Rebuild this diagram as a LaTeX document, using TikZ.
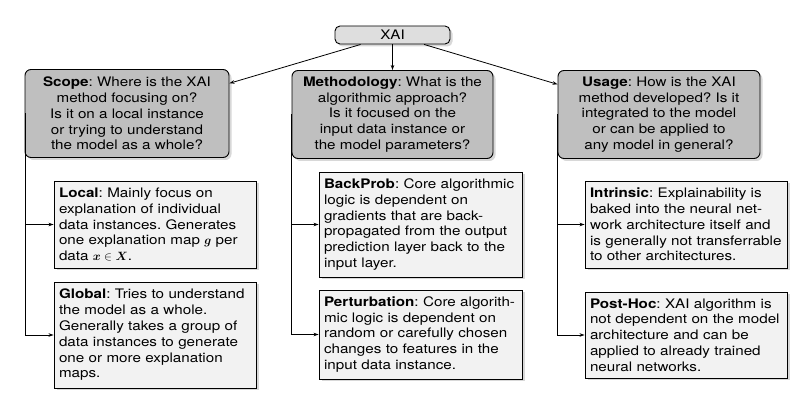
\documentclass[tikz,border=0pt]{standalone}
\usepackage{amsmath}
\usepackage{bm}
\usepackage{fontspec}
\setmainfont[FakeStretch=1.16]{TeX Gyre Heros}
\usetikzlibrary{shadows,arrows.meta}
\newcommand{\Lx}[1]{\mbox{#1}}
\begin{document}
\frenchspacing
\begin{tikzpicture}[x=1pt,y=-1pt,
  every node/.style={font={\fontsize{13.1}{15.8}\selectfont\frenchspacing}, line width=0.9pt, draw=black, inner sep=0pt},
  shad/.style={drop shadow={shadow xshift=2.5pt, shadow yshift=-2.5pt, fill=black!30}},
  rootbox/.style={shad, rounded corners=5pt, fill=black!13, minimum width=115pt, minimum height=18pt},
  parentbox/.style={shad, rounded corners=6pt, fill=black!25, align=center, minimum height=88pt},
  childbox/.style={shad, fill=black!5, align=left, minimum height=#1},
  conn/.style={line width=0.8pt, -{Stealth[length=5pt,width=3.5pt]}}
]
\path[fill=white] (0,0) rectangle (809,403);

\node[rootbox] (xai) at (392.5,35) {XAI};

\node[parentbox, minimum width=204pt] (scope) at (127,113.5)
  {\textbf{Scope}: Where is the XAI\\ method focusing on?\\ Is it on a local instance\\ or trying to understand\\ the model as a whole?};
\node[parentbox, minimum width=201pt] (meth) at (392.5,114.5)
  {\textbf{Methodology}: What is the\\ algorithmic approach?\\ Is it focused on the\\ input data instance or\\ the model parameters?};
\node[parentbox, minimum width=202pt] (usage) at (659,114.5)
  {\textbf{Usage}: How is the XAI\\ method developed? Is it\\ integrated to the model\\ or can be applied to\\ any model in general?};

\node[childbox=87pt, text width=192pt, inner xsep=5pt] (local) at (155,224.5)
  {\Lx{\textbf{Local}: Mainly focus on}\\ \Lx{explanation of individual}\\ \Lx{data instances. Generates}\\ \Lx{one explanation map $\bm{g}$ per}\\ \Lx{data $\bm{x}\in\bm{X}$.}};
\node[childbox=106pt, text width=192pt, inner xsep=5pt] (global) at (155,335)
  {\Lx{\textbf{Global}: Tries to understand}\\ \Lx{the model as a whole.}\\ \Lx{Generally takes a group of}\\ \Lx{data instances to generate}\\ \Lx{one or more explanation}\\ \Lx{maps.}};

\node[childbox=105pt, text width=193pt, inner xsep=5pt] (bp) at (420.5,224.5)
  {\Lx{\textbf{BackProb}: Core algorithmic}\\ \Lx{logic is dependent on}\\ \Lx{gradients that are back-}\\ \Lx{propagated from the output}\\ \Lx{prediction layer back to the}\\ \Lx{input layer.}};
\node[childbox=89pt, text width=193pt, inner xsep=5pt] (pert) at (420.5,334.5)
  {\Lx{\textbf{Perturbation}: Core algorith-}\\ \Lx{mic logic is dependent on}\\ \Lx{random or carefully chosen}\\ \Lx{changes to features in the}\\ \Lx{input data instance.}};

\node[childbox=87pt, text width=192pt, inner xsep=5pt] (intr) at (686,224.5)
  {\Lx{\textbf{Intrinsic}: Explainability is}\\ \Lx{baked into the neural net-}\\ \Lx{work architecture itself and}\\ \Lx{is generally not transferrable}\\ \Lx{to other architectures.}};
\node[childbox=86pt, text width=192pt, inner xsep=5pt] (post) at (686,335)
  {\Lx{\textbf{Post-Hoc}: XAI algorithm is}\\ \Lx{not dependent on the model}\\ \Lx{architecture and can be}\\ \Lx{applied to already trained}\\ \Lx{neural networks.}};

\draw[conn] (xai) -- (scope);
\draw[conn] (xai) -- (meth);
\draw[conn] (xai) -- (usage);

\draw[conn] ([xshift=1pt]scope.west) |- (local.west);
\draw[conn] ([xshift=1pt]scope.west) |- (global.west);
\draw[conn] ([xshift=-0.5pt]meth.west) |- (bp.west);
\draw[conn] ([xshift=-0.5pt]meth.west) |- (pert.west);
\draw[conn] (usage.west) |- (intr.west);
\draw[conn] (usage.west) |- (post.west);
\end{tikzpicture}
\end{document}
